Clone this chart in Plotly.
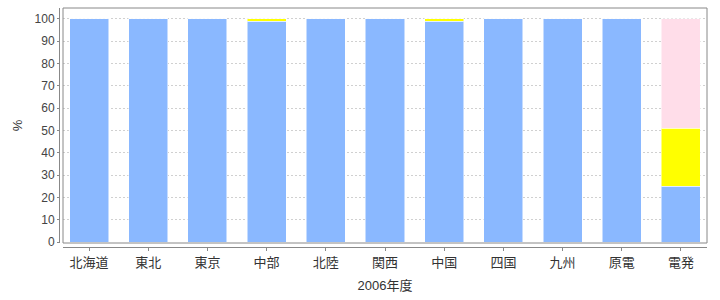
import plotly.graph_objects as go

categories = ["北海道", "東北", "東京", "中部", "北陸", "関西", "中国", "四国", "九州", "原電", "電発"]
blue_vals = [100, 100, 100, 99, 100, 100, 99, 100, 100, 100, 25]
yellow_vals = [0, 0, 0, 1, 0, 0, 1, 0, 0, 0, 26]
pink_vals = [0, 0, 0, 0, 0, 0, 0, 0, 0, 0, 49]
y_ticks = [0, 10, 20, 30, 40, 50, 60, 70, 80, 90, 100]

W, H = 720, 300
ml, mr, mt, mb = 59, 13, 8, 53
pw = W - ml - mr
ph = H - mt - mb
dx = 4 / pw
dy = 4 / ph

font_fam = "Liberation Sans, Noto Sans CJK JP, sans-serif"

fig = go.Figure()
for vals, col in [(blue_vals, "#8ab8ff"), (yellow_vals, "#ffff00"), (pink_vals, "#ffdde9")]:
    fig.add_trace(go.Bar(
        x=categories, y=vals,
        marker=dict(color=col, line=dict(color="rgba(255,255,255,0.5)", width=1)),
        showlegend=False,
    ))

fig.update_layout(
    barmode="stack",
    bargap=0.34,
    width=W, height=H,
    margin=dict(l=ml, r=mr, t=mt, b=mb, pad=0),
    paper_bgcolor="white",
    plot_bgcolor="white",
    font=dict(family=font_fam, size=12, color="#444"),
    xaxis=dict(
        domain=[dx, 1],
        anchor="free", position=0,
        range=[-0.44, 10.44],
        showline=True, linecolor="#888", linewidth=1,
        ticks="outside", ticklen=3, tickcolor="#888",
        tickfont=dict(size=13, color="#333"),
        title=dict(text="2006年度", font=dict(size=13, color="#333"), standoff=12),
        showgrid=False,
    ),
    yaxis=dict(
        domain=[dy, 1],
        anchor="free", position=0,
        range=[-0.45, 104.93],
        tickvals=y_ticks,
        showline=True, linecolor="#888", linewidth=1,
        ticks="outside", ticklen=2, tickcolor="#888",
        tickfont=dict(size=12, color="#444"),
        showgrid=True, gridcolor="#d0d0d0", griddash="2px,2px", gridwidth=1,
        zeroline=False,
        title=dict(text="%", font=dict(size=13, color="#333"), standoff=8),
    ),
    shapes=[dict(type="rect", xref="paper", yref="paper", x0=dx, x1=1, y0=dy, y1=1,
                 line=dict(color="#888", width=1), fillcolor="rgba(0,0,0,0)", layer="above")],
)

fig.write_html("out.html")
